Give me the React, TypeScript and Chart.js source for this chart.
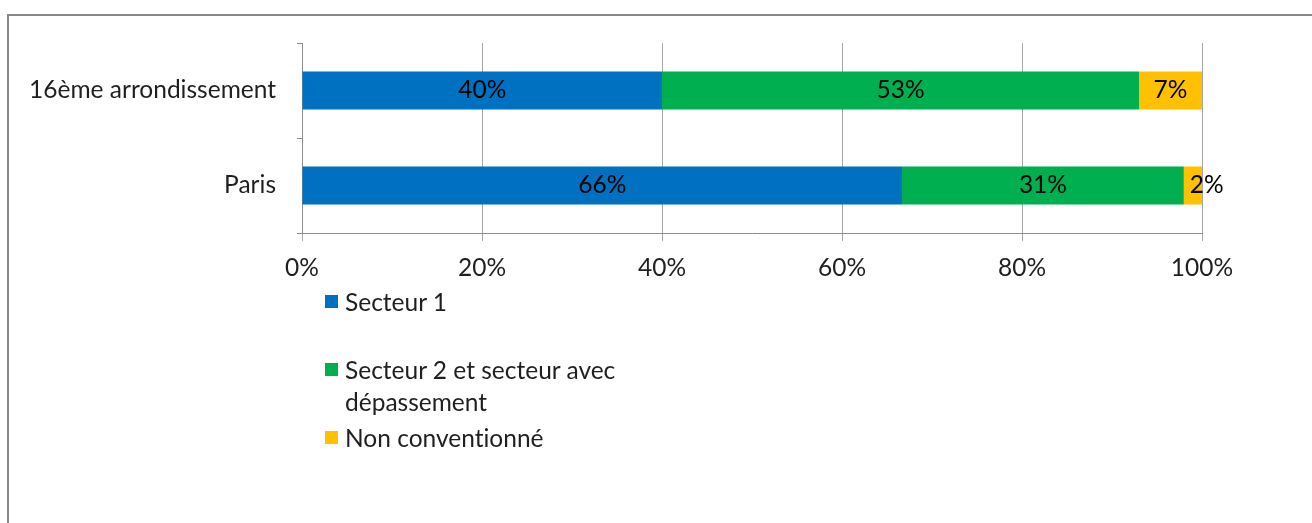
import React, { useEffect, useRef } from "react";
import { Chart, registerables } from "chart.js";

Chart.register(...registerables);

const categories = ["16ème arrondissement", "Paris"];
const seriesNames = ["Secteur 1", "Secteur 2 et secteur avec dépassement", "Non conventionné"];
const secteur1 = [40, 66];
const secteur2 = [53, 31];
const nonConventionne = [7, 2];
const seriesColors = ["#0070C0", "#00B050", "#FFC000"];
const xTickValues = [0, 20, 40, 60, 80, 100];

const FONT = "Lato, 'Open Sans', sans-serif";
const FS = 24.5;
const TEXT_COLOR = "#1f1f1f";

const rawSeries = [secteur1, secteur2, nonConventionne];

const labelPlugin = {
  id: "segLabels",
  afterDatasetsDraw(chart: any) {
    const ctx = chart.ctx;
    ctx.save();
    ctx.font = `${FS}px ${FONT}`;
    ctx.fillStyle = "#000";
    ctx.textBaseline = "middle";
    chart.data.datasets.forEach((_ds: any, di: number) => {
      const meta = chart.getDatasetMeta(di);
      meta.data.forEach((el: any, i: number) => {
        const text = rawSeries[di][i] + "%";
        const { x, base, y } = el.getProps(["x", "base", "y"], true);
        const left = Math.min(x, base);
        const right = Math.max(x, base);
        const w = ctx.measureText(text).width;
        if (w + 4 > right - left) {
          ctx.textAlign = "left";
          ctx.fillText(text, left + 6, y);
        } else {
          ctx.textAlign = "center";
          ctx.fillText(text, (left + right) / 2, y);
        }
      });
    });
    ctx.restore();
  },
};

export default function App() {
  const ref = useRef<HTMLCanvasElement | null>(null);

  useEffect(() => {
    if (!ref.current) return;
    const totals = categories.map((_, i) => rawSeries.reduce((s, arr) => s + arr[i], 0));
    const chart = new Chart(ref.current, {
      type: "bar",
      data: {
        labels: categories,
        datasets: rawSeries.map((arr, di) => ({
          label: seriesNames[di],
          data: arr.map((v, i) => (v / totals[i]) * 100),
          backgroundColor: seriesColors[di],
          borderWidth: 0,
          barPercentage: 0.4,
          categoryPercentage: 1,
        })),
      },
      options: {
        indexAxis: "y",
        responsive: false,
        animation: false,
        devicePixelRatio: 1,
        layout: { padding: { left: 0, top: 43, right: 110, bottom: 230 } },
        plugins: { legend: { display: false }, tooltip: { enabled: false } },
        scales: {
          x: {
            stacked: true,
            min: 0,
            max: 100,
            afterBuildTicks: (s: any) => {
              s.ticks = xTickValues.map((v) => ({ value: v }));
            },
            ticks: {
              callback: (v: any) => v + "%",
              font: { family: FONT, size: FS },
              color: TEXT_COLOR,
              padding: 12,
              maxRotation: 0,
            },
            grid: { color: "#a6a6a6", tickLength: 8, drawTicks: true },
            border: { color: "#8c8c8c" },
            afterFit: (s: any) => {
              s.height = 60;
            },
          },
          y: {
            stacked: true,
            ticks: {
              font: { family: FONT, size: FS },
              color: TEXT_COLOR,
              padding: 21,
            },
            grid: { drawOnChartArea: false, tickLength: 5, color: "#8c8c8c", offset: true },
            border: { color: "#8c8c8c" },
            afterFit: (s: any) => {
              s.width = 302;
            },
          },
        },
      },
      plugins: [labelPlugin],
    } as any);
    return () => chart.destroy();
  }, []);

  const legendTops = [286, 354, 422];

  return (
    <div>
      <div
        style={{
          position: "fixed",
          left: 7,
          top: 14,
          width: 1400,
          height: 700,
          border: "2px solid #878787",
          boxSizing: "border-box",
          background: "#fff",
        }}
      />
      <canvas
        ref={ref}
        width={1312}
        height={523}
        style={{ position: "fixed", left: 0, top: 0, width: 1312, height: 523, display: "block" }}
      />
      {seriesNames.map((name, i) => (
        <div
          key={name}
          style={{
            position: "fixed",
            left: 325,
            top: legendTops[i],
            display: "flex",
            alignItems: "flex-start",
            fontFamily: FONT,
            fontSize: FS,
            lineHeight: "32px",
            color: TEXT_COLOR,
            fontVariantLigatures: "none",
          }}
        >
          <div
            style={{
              width: 13,
              height: 13,
              background: seriesColors[i],
              marginTop: 9,
              marginRight: 7,
              flex: "0 0 auto",
            }}
          />
          <div style={{ width: 295 }}>{name}</div>
        </div>
      ))}
    </div>
  );
}
